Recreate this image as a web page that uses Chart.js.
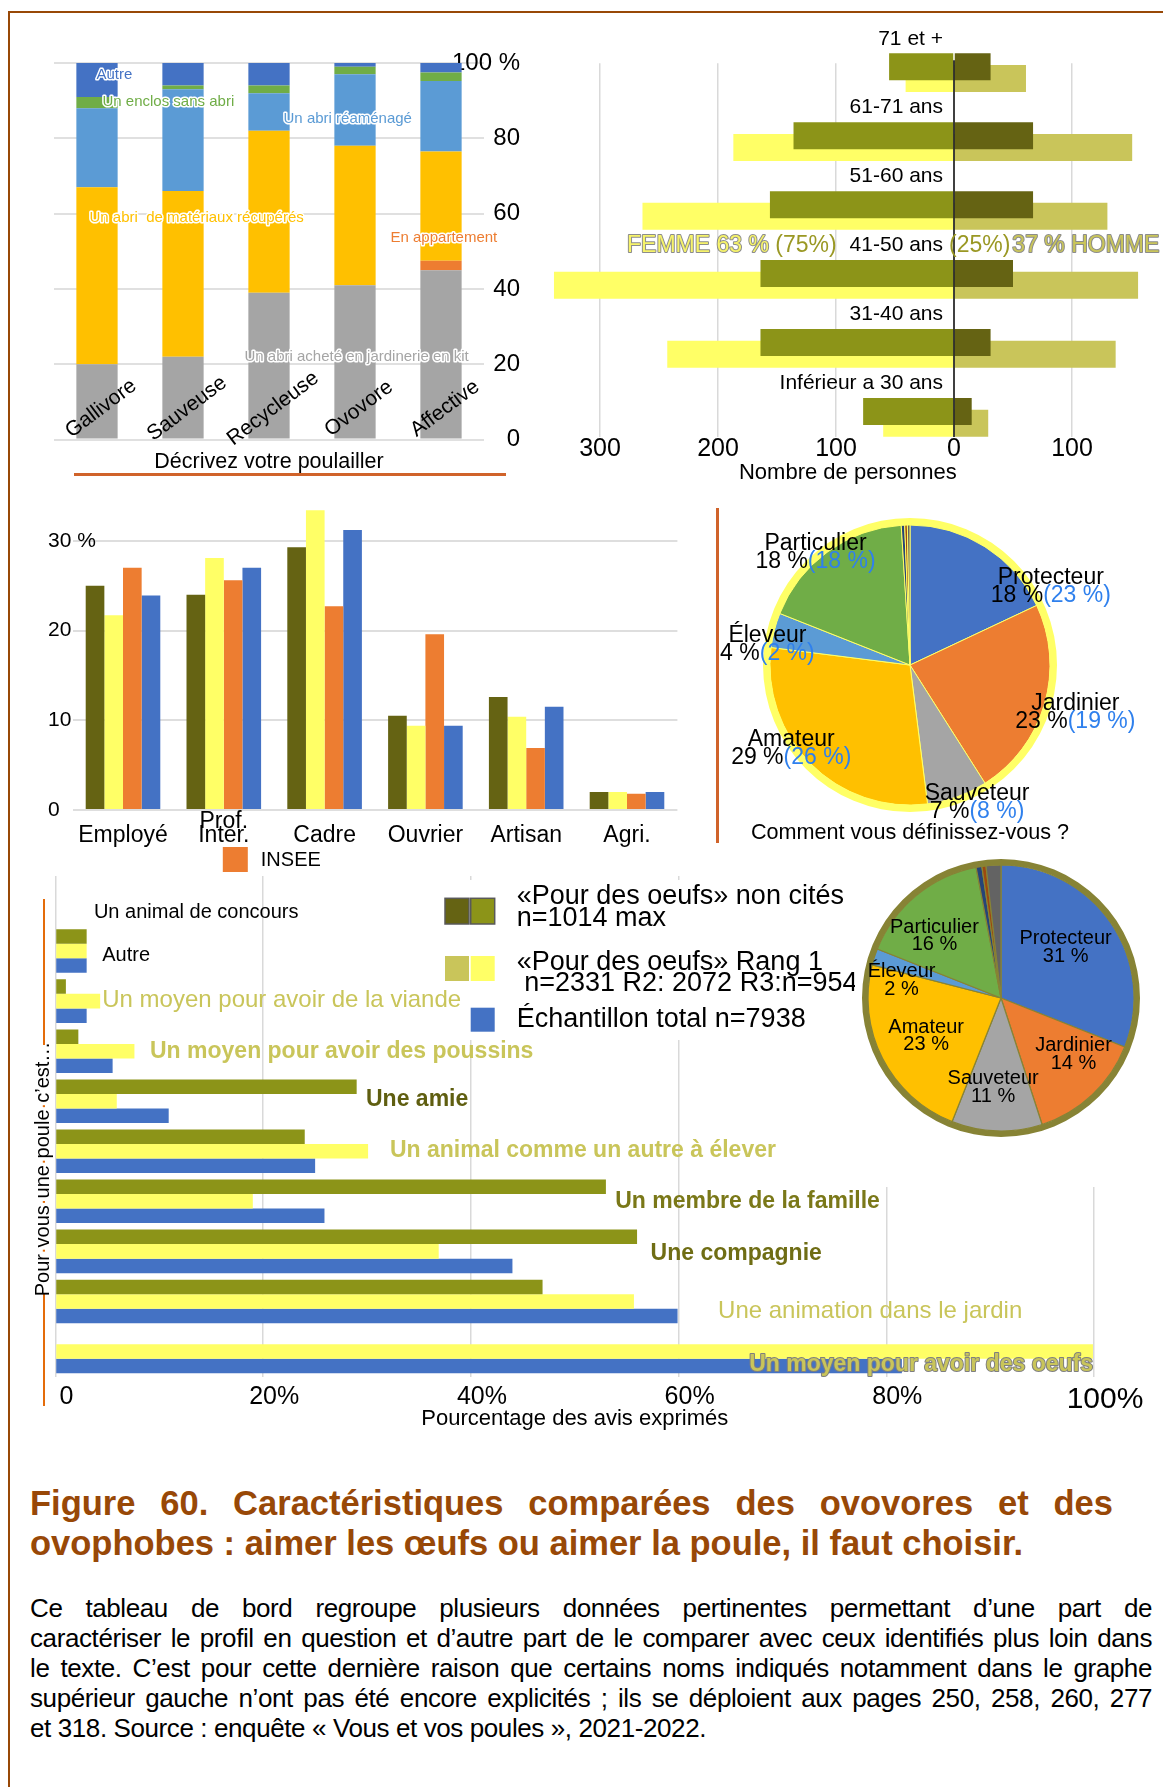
<!DOCTYPE html>
<html lang="fr">
<head>
<meta charset="utf-8">
<title>Figure 60 – ovovores et ovophobes</title>
<script src="https://cdn.jsdelivr.net/npm/chart.js@4.4.1/dist/chart.umd.min.js"></script>
<style>
  html, body { margin: 0; padding: 0; background: #fff; }
  body { position: relative; width: 1163px; height: 1787px; overflow: hidden;
         font-family: 'Liberation Sans', Arial, Helvetica, sans-serif; color: #000; }
  .graphe, .trait { position: absolute; }
  #titreY { position: absolute; left: 42px; top: 1169px; width: 260px; height: 24px; line-height: 24px;
            margin: -12px 0 0 -130px; transform: rotate(-90deg); text-align: center; font-size: 20px; white-space: nowrap; }
  #titreY span { color: #E46C0A; }
  #legende { position: absolute; left: 30px; top: 1483px; width: 1083px; font-weight: bold;
             font-size: 34.5px; line-height: 40px; color: #984807; }
  #texte { position: absolute; left: 30px; top: 1593px; width: 1122px; font-size: 26px; letter-spacing: -0.4px; line-height: 30px; }
  .just { text-align: justify; text-align-last: justify; }
</style>
</head>
<body>

<div class="trait" style="left:8px;top:11px;width:1155px;height:2px;background:#984807"></div>
<div class="trait" style="left:8px;top:11px;width:2px;height:1776px;background:#984807"></div>
<div class="trait" style="left:74px;top:473px;width:432px;height:3px;background:#D0632A"></div>
<div class="trait" style="left:716px;top:508px;width:3px;height:335px;background:#D0632A"></div>
<div class="trait" style="left:43px;top:899px;width:2px;height:146px;background:#E46C0A"></div>
<div class="trait" style="left:43px;top:1293px;width:2px;height:113px;background:#E46C0A"></div>

<div class="graphe" style="left:0;top:0;width:560px;height:490px"><canvas id="poulailler"></canvas></div>
<div class="graphe" style="left:540px;top:0;width:623px;height:490px"><canvas id="pyramide"></canvas></div>
<div class="graphe" style="left:0;top:490px;width:700px;height:390px"><canvas id="csp"></canvas></div>
<div class="graphe" style="left:680px;top:510px;width:460px;height:340px"><canvas id="profilsOvophobes"></canvas></div>
<div class="graphe" style="left:0;top:860px;width:1163px;height:580px"><canvas id="pourVous"></canvas></div>
<div class="graphe" style="left:855px;top:852px;width:291px;height:335px;background:#fff"></div>
<div class="graphe" style="left:855.5px;top:852.7px;width:290px;height:290px"><canvas id="profilsOvovores"></canvas></div>
<div id="titreY">Pour<span>·</span>vous<span>·</span>une<span>·</span>poule<span>·</span>c’est…</div>

<div id="legende">
  <div class="just">Figure 60. Caractéristiques comparées des ovovores et des</div>
  <div>ovophobes : aimer les œufs ou aimer la poule, il faut choisir.</div>
</div>
<div id="texte">
  <div class="just">Ce tableau de bord regroupe plusieurs données pertinentes permettant d’une part de</div>
  <div class="just">caractériser le profil en question et d’autre part de le comparer avec ceux identifiés plus loin dans</div>
  <div class="just">le texte. C’est pour cette dernière raison que certains noms indiqués notamment dans le graphe</div>
  <div class="just">supérieur gauche n’ont pas été encore explicités ; ils se déploient aux pages 250, 258, 260, 277</div>
  <div>et 318. Source : enquête « Vous et vos poules », 2021-2022.</div>
</div>

<script>
// ---------- données ----------

// Décrivez votre poulailler (% par profil)
const profils = ['Gallivore', 'Sauveuse', 'Recycleuse', 'Ovovore', 'Affective'];
const abriKit = [20, 22, 39, 41, 45];
const appartement = [0, 0, 0, 0, 2.5];
const abriMateriaux = [47, 44, 43, 37, 29];
const abriReamenage = [21, 27, 10, 19, 18.7];
const enclosSansAbri = [3, 1, 2, 2, 2.3];
const autrePoulailler = [9, 6, 6, 1, 2.5];

// Pyramide des âges (nombre de personnes)
const tranchesAge = ['71 et +', '61-71 ans', '51-60 ans', '41-50 ans', '31-40 ans', 'Inférieur a 30 ans'];
const femmesNonCites = [55, 136, 156, 164, 164, 77];
const hommesNonCites = [31, 67, 67, 50, 31, 15];
const femmesRang1 = [41, 187, 264, 339, 243, 60];
const hommesRang1 = [61, 151, 130, 156, 137, 29];
const graduationsAge = [-300, -200, -100, 0, 100];
const partFemmes = 63, partHommes = 37;
const partFemmesRef = 75, partHommesRef = 25;

// Catégories socio-professionnelles (%)
const csp = ['Employé', ['Prof.', 'Inter.'], 'Cadre', 'Ouvrier', 'Artisan', 'Agri.'];
const cspNonCites = [25.0, 24.0, 29.3, 10.5, 12.6, 2.0];
const cspRang1 = [21.7, 28.1, 33.4, 9.4, 10.4, 2.0];
const cspInsee = [27.0, 25.6, 22.7, 19.6, 6.9, 1.8];
const cspTotal = [23.9, 27.0, 31.2, 9.4, 11.5, 2.0];

// Comment vous définissez-vous ? (%)
const profilsPoule = ['Protecteur', 'Jardinier', 'Sauveteur', 'Amateur', 'Éleveur', 'Particulier', 'Autre', 'Sans avis', 'Non classé'];
const partsOvophobes = [18, 23, 7, 29, 4, 18, 0.4, 0.3, 0.3];
const partsEchantillon = [23, 19, 8, 26, 2, 18];
const partsOvovores = [31, 14, 11, 23, 2, 16, 0.7, 0.5, 1.8];

// Pour vous une poule c'est... (% des avis exprimés)
const pourVous = ['Un animal de concours', 'Autre', 'Un moyen pour avoir de la viande',
  'Un moyen pour avoir des poussins', 'Une amie', 'Un animal comme un autre à élever',
  'Un membre de la famille', 'Une compagnie', 'Une animation dans le jardin', 'Un moyen pour avoir des oeufs'];
const pvNonCites = [0, 3, 1, 2.2, 29, 24, 53, 56, 46.9, 0];
const pvRang1 = [0, 3, 4.3, 7.6, 5.9, 30.1, 19, 36.9, 55.7, 99.9];
const pvTotal = [0, 3, 3, 5.5, 10.9, 25, 25.9, 44, 59.9, 81.5];

// ---------- réglages communs ----------

const FAMILLE = "'Liberation Sans', Arial, Helvetica, sans-serif";
Chart.defaults.font.family = FAMILLE;
Chart.defaults.color = '#000';
Chart.defaults.animation = false;
Chart.defaults.responsive = true;
Chart.defaults.maintainAspectRatio = false;
Chart.defaults.plugins.legend.display = false;
Chart.defaults.plugins.tooltip.enabled = false;

const couleursProfils = ['#4472C4', '#ED7D31', '#A5A5A5', '#FFC000', '#5B9BD5', '#70AD47', '#264478', '#9E480E', '#636363'];
const OLIVE_FONCE = '#656313', OLIVE = '#8C9418', KAKI = '#C9C55A', JAUNE = '#FFFF66', BLEU = '#4472C4';

function police(taille, gras) {
  return (gras ? 'bold ' : '') + taille + 'px ' + FAMILLE;
}

function texteContour(ctx, txt, x, y, remplissage, contour, epaisseur) {
  if (contour) {
    ctx.strokeStyle = contour;
    ctx.lineWidth = epaisseur;
    ctx.lineJoin = 'round';
    ctx.strokeText(txt, x, y);
  }
  ctx.fillStyle = remplissage;
  ctx.fillText(txt, x, y);
}

// ---------- 1. Décrivez votre poulailler ----------

// noms des séries écrits dans le graphe, en (index de catégorie, valeur)
const placeSeries = [[1.715, 22.1], [3.413, 53.5], [-0.087, 59.0], [2.169, 85.1], [0.064, 89.6], [-0.006, 96.8]];

const etiquettesPoulailler = {
  id: 'etiquettesPoulailler',
  afterDatasetsDraw(chart) {
    const { ctx, chartArea, scales: { x, y } } = chart;
    ctx.save();
    ctx.font = police(15);
    ctx.textBaseline = 'middle';
    ctx.textAlign = 'left';
    chart.data.datasets.forEach((ds, i) => {
      const [cx, cy] = placeSeries[i];
      texteContour(ctx, ds.label, x.getPixelForValue(cx), y.getPixelForValue(cy), ds.backgroundColor, '#fff', 3);
    });
    // profils en biais sur le pied des barres
    ctx.font = police(21);
    ctx.fillStyle = '#000';
    ctx.textAlign = 'center';
    chart.data.labels.forEach((lab, i) => {
      ctx.save();
      ctx.translate(x.getPixelForValue(i) + 4, chartArea.bottom - 31);
      ctx.rotate(-37 * Math.PI / 180);
      ctx.fillText(lab, 0, 0);
      ctx.restore();
    });
    ctx.restore();
  }
};

new Chart(document.getElementById('poulailler'), {
  type: 'bar',
  data: {
    labels: profils,
    datasets: [
      { label: 'Un abri acheté en jardinerie en kit', data: abriKit, backgroundColor: '#A5A5A5' },
      { label: 'En appartement', data: appartement, backgroundColor: '#ED7D31' },
      { label: 'Un abri  de matériaux récupérés', data: abriMateriaux, backgroundColor: '#FFC000' },
      { label: 'Un abri réaménagé', data: abriReamenage, backgroundColor: '#5B9BD5' },
      { label: 'Un enclos sans abri', data: enclosSansAbri, backgroundColor: '#70AD47' },
      { label: 'Autre', data: autrePoulailler, backgroundColor: '#4472C4' }
    ]
  },
  options: {
    // l'écart des graduations (36 px) réserve aussi une marge basse de ~50 px
    layout: { padding: { left: 54, top: 63, right: 40, bottom: 0 } },
    datasets: { bar: { categoryPercentage: 1, barPercentage: 0.48 } },
    scales: {
      x: {
        stacked: true,
        grid: { display: false },
        border: { display: false },
        ticks: { display: false },
        title: { display: true, text: 'Décrivez votre poulailler', font: { size: 21.5 }, padding: 0 },
        afterFit: s => { s.height = 35; }
      },
      y: {
        stacked: true,
        position: 'right',
        min: 0,
        max: 100,
        ticks: { stepSize: 20, mirror: true, crossAlign: 'near', padding: 36, font: { size: 24 },
                 callback: v => v === 100 ? '100 %' : v },
        grid: { color: '#E0E0E0', lineWidth: 2, drawTicks: false },
        border: { display: false },
        afterFit: s => { s.width = 36; }
      }
    }
  },
  plugins: [etiquettesPoulailler]
});

// ---------- 2. Pyramide des âges ----------

const etiquettesAges = {
  id: 'etiquettesAges',
  afterDatasetsDraw(chart) {
    const { ctx, chartArea, scales: { x, y } } = chart;
    const x0 = x.getPixelForValue(0);
    ctx.save();
    ctx.strokeStyle = '#000';
    ctx.lineWidth = 1.5;
    ctx.beginPath();
    ctx.moveTo(x0, chartArea.top - 3);
    ctx.lineTo(x0, chartArea.bottom);
    ctx.stroke();

    ctx.font = police(21);
    ctx.fillStyle = '#000';
    ctx.textAlign = 'right';
    ctx.textBaseline = 'middle';
    chart.data.labels.forEach((lab, i) => ctx.fillText(lab, x0 - 11, y.getPixelForValue(i) - 28));

    // répartition femmes / hommes à hauteur des 41-50 ans
    const yMil = y.getPixelForValue(3) - 28;
    const bord = x0 - 11 - ctx.measureText(chart.data.labels[3]).width - 13;
    ctx.font = police(23);
    ctx.textAlign = 'left';
    const t1 = 'FEMME ' + partFemmes + ' % ', t2 = '(' + partFemmesRef + '%)';
    const w1 = ctx.measureText(t1).width, w2 = ctx.measureText(t2).width;
    texteContour(ctx, t1, bord - w1 - w2, yMil, '#F6F36A', '#8C8C8C', 2);
    texteContour(ctx, t2, bord - w2, yMil, '#9A9824');
    const t3 = '(' + partHommesRef + '%)', t4 = partHommes + ' % HOMME';
    texteContour(ctx, t3, x0 - 5, yMil, '#9A9824');
    texteContour(ctx, t4, x0 - 3 + ctx.measureText(t3).width, yMil, KAKI, '#8C8C8C', 2);
    ctx.restore();
  }
};

const decalage = 0.17; // les barres claires passent un peu sous les foncées

new Chart(document.getElementById('pyramide'), {
  type: 'bar',
  data: {
    labels: tranchesAge,
    datasets: [
      { label: 'Femmes non cités', data: femmesNonCites.map((v, i) => ({ x: -v, y: i })), backgroundColor: OLIVE },
      { label: 'Hommes non cités', data: hommesNonCites.map((v, i) => ({ x: v, y: i })), backgroundColor: OLIVE_FONCE },
      { label: 'Femmes rang 1', data: femmesRang1.map((v, i) => ({ x: -v, y: i + decalage })), backgroundColor: JAUNE },
      { label: 'Hommes rang 1', data: hommesRang1.map((v, i) => ({ x: v, y: i + decalage })), backgroundColor: KAKI }
    ]
  },
  options: {
    indexAxis: 'y',
    layout: { padding: { left: 12.8, top: 63.3, right: 20.2, bottom: 3 } },
    datasets: { bar: { grouped: false, barPercentage: 10, maxBarThickness: 27, clip: false } },
    scales: {
      x: {
        min: -340,
        max: 160,
        afterBuildTicks: s => { s.ticks = graduationsAge.map(v => ({ value: v })); },
        ticks: { padding: 0, font: { size: 25, lineHeight: 1 }, callback: v => Math.abs(v) },
        grid: { color: c => c.tick && c.tick.value === 0 ? 'rgba(0,0,0,0)' : '#D9D9D9', lineWidth: 1.5, drawTicks: false },
        border: { display: false },
        title: { display: true, text: 'Nombre de personnes', font: { size: 22 }, padding: { top: 0, bottom: 1 } },
        afterFit: s => { s.height = 50; }
      },
      y: { type: 'linear', display: false, offset: false, reverse: true, min: -0.05, max: 5.37 }
    }
  },
  plugins: [etiquettesAges]
});

// ---------- 3. Catégories socio-professionnelles ----------

const legendeInsee = {
  id: 'legendeInsee',
  afterDraw(chart) {
    const { ctx, chartArea, scales: { x } } = chart;
    const ds = chart.data.datasets[2];
    const gx = x.getPixelForValue(1) - 1, gy = chartArea.bottom + 37;
    ctx.save();
    ctx.fillStyle = ds.backgroundColor;
    ctx.fillRect(gx, gy, 25, 25);
    ctx.fillStyle = '#000';
    ctx.font = police(20);
    ctx.textBaseline = 'middle';
    ctx.fillText(ds.label, gx + 38, gy + 13);
    ctx.restore();
  }
};

new Chart(document.getElementById('csp'), {
  type: 'bar',
  data: {
    labels: csp,
    datasets: [
      { label: '«Pour des oeufs» non cités', data: cspNonCites, backgroundColor: OLIVE_FONCE },
      { label: '«Pour des oeufs» Rang 1', data: cspRang1, backgroundColor: JAUNE },
      { label: 'INSEE', data: cspInsee, backgroundColor: '#ED7D31' },
      { label: 'Échantillon total', data: cspTotal, backgroundColor: BLEU }
    ]
  },
  options: {
    layout: { padding: { left: 48, top: 6, right: 22.6, bottom: 30 } },
    datasets: { bar: { categoryPercentage: 0.74, barPercentage: 1 } },
    scales: {
      x: {
        grid: { display: false },
        border: { display: false },
        ticks: { font: { size: 23, lineHeight: 0.6 }, crossAlign: 'far', padding: 4, maxRotation: 0, autoSkip: false },
        afterFit: s => { s.height = 40; }
      },
      y: {
        min: 0,
        max: 35,
        ticks: { stepSize: 10, includeBounds: false, mirror: true, crossAlign: 'near', padding: -24.6, font: { size: 21 },
                 callback: v => v === 30 ? '30 %' : v },
        grid: { color: '#DEDEDE', lineWidth: 2, drawTicks: false },
        border: { display: false },
        afterFit: s => { s.width = 24.6; }
      }
    }
  },
  plugins: [legendeInsee]
});

// ---------- 4 et 6. Camemberts des profils ----------

// place des étiquettes : [angle en degrés depuis midi, distance au centre en px]
function etiquettesParts(cfg) {
  return {
    id: 'etiquettesParts',
    afterDatasetsDraw(chart) {
      const { ctx } = chart;
      const { x: cx, y: cy } = chart.getDatasetMeta(1).data[0];
      const valeurs = chart.data.datasets[1].data;
      ctx.save();
      ctx.font = police(cfg.taille);
      ctx.textBaseline = 'middle';
      ctx.textAlign = 'left';
      cfg.places.forEach(([a, d], i) => {
        const r = a * Math.PI / 180;
        const px = cx + d * Math.sin(r), py = cy - d * Math.cos(r);
        const nom = chart.data.labels[i];
        const val = valeurs[i] + ' %';
        const comp = cfg.comparaison ? '(' + cfg.comparaison[i] + ' %)' : '';
        ctx.fillStyle = '#000';
        ctx.fillText(nom, px - ctx.measureText(nom).width / 2, py - cfg.ecart / 2);
        const wv = ctx.measureText(val).width, wc = comp ? ctx.measureText(comp).width : 0;
        const x1 = px - (wv + wc) / 2;
        ctx.fillText(val, x1, py + cfg.ecart / 2);
        if (comp) {
          ctx.fillStyle = '#2F80ED';
          ctx.fillText(comp, x1 + wv, py + cfg.ecart / 2);
        }
      });
      ctx.restore();
    }
  };
}

new Chart(document.getElementById('profilsOvophobes'), {
  type: 'pie',
  data: {
    labels: profilsPoule,
    datasets: [
      { label: 'contour', data: [1], backgroundColor: JAUNE, borderWidth: 0, weight: 0.05 },
      { label: 'Ovophobes', data: partsOvophobes, backgroundColor: couleursProfils,
        borderColor: JAUNE, borderWidth: 1, weight: 1 }
    ]
  },
  options: {
    radius: 147,
    plugins: {
      title: { display: true, position: 'bottom', text: 'Comment vous définissez-vous ?', color: '#000',
               font: { size: 21.6, weight: 'normal' }, padding: { top: 0, bottom: 4 } }
    }
  },
  plugins: [etiquettesParts({
    taille: 23, ecart: 18, comparaison: partsEchantillon,
    places: [[61, 161], [106, 172], [154, 153], [235, 145], [278, 144], [320, 147]]
  })]
});

new Chart(document.getElementById('profilsOvovores'), {
  type: 'pie',
  data: {
    labels: profilsPoule,
    datasets: [
      { label: 'contour', data: [1], backgroundColor: '#878335', borderWidth: 0, weight: 0.045 },
      { label: 'Ovovores', data: partsOvovores, backgroundColor: couleursProfils,
        borderColor: '#878335', borderWidth: 1.2, weight: 1 }
    ]
  },
  options: { radius: 139 },
  plugins: [etiquettesParts({
    taille: 20, ecart: 17.5,
    places: [[52, 82], [128, 92], [185, 90], [243, 84], [280, 101], [313, 91]]
  })]
});

// ---------- 5. Pour vous une poule c'est... ----------

// libellés posés au bout des barres : x en %, décalage vertical en px
const libellesPV = [
  { at: 3.7, dy: 11, couleur: '#000', gras: false, taille: 20 },
  { at: 4.5, dy: 4, couleur: '#000', gras: false, taille: 20 },
  { at: 4.5, dy: -1, couleur: KAKI, gras: false, taille: 24 },
  { at: 9.1, dy: 0, couleur: KAKI, gras: true, taille: 23 },
  { at: 29.9, dy: -2, couleur: '#5F5E10', gras: true, taille: 23 },
  { at: 32.2, dy: -1, couleur: KAKI, gras: true, taille: 23 },
  { at: 53.9, dy: 0, couleur: '#7A7818', gras: true, taille: 23 },
  { at: 57.3, dy: 2, couleur: '#6F6D14', gras: true, taille: 23 },
  { at: 63.8, dy: 10, couleur: KAKI, gras: false, taille: 24 },
  { at: 66.8, dy: 13, couleur: KAKI, gras: true, taille: 23, contour: '#7F7F7F' }
];

const etiquettesPourVous = {
  id: 'etiquettesPourVous',
  afterDatasetsDraw(chart) {
    const { ctx, scales: { x, y } } = chart;
    ctx.save();

    // légende
    ctx.fillStyle = '#fff';
    ctx.fillRect(440, 20, 415, 160);
    const carres = [
      [445, 38.3, 25.7, [OLIVE_FONCE, OLIVE]],
      [445, 96, 25, [KAKI, JAUNE]],
      [445, 147.7, 24, [null, BLEU]]
    ];
    carres.forEach(([cx, cy, h, coul], k) => {
      coul.forEach((c, j) => {
        if (!c) return;
        const gx = cx + j * 25.7;
        ctx.fillStyle = c;
        ctx.fillRect(gx, cy, 24, h);
        if (k === 0) {
          ctx.strokeStyle = '#595959';
          ctx.lineWidth = 1.5;
          ctx.strokeRect(gx, cy, 24, h);
        }
      });
    });
    ctx.font = police(27);
    ctx.fillStyle = '#000';
    ctx.textBaseline = 'middle';
    ctx.textAlign = 'left';
    [['«Pour des oeufs» non cités', 36.7], ['n=1014 max', 59],
     ['«Pour des oeufs» Rang 1', 103], [' n=2331 R2: 2072 R3:n=954', 124],
     ['Échantillon total n=7938', 160]].forEach(([t, ty]) => ctx.fillText(t, 516.7, ty));

    // libellés des catégories
    chart.data.labels.forEach((lab, i) => {
      const st = libellesPV[i];
      ctx.font = police(st.taille, st.gras);
      texteContour(ctx, lab, x.getPixelForValue(st.at), y.getPixelForValue(i) + st.dy, st.couleur, st.contour, 2);
    });
    ctx.restore();
  }
};

new Chart(document.getElementById('pourVous'), {
  type: 'bar',
  data: {
    labels: pourVous,
    datasets: [
      { label: '«Pour des oeufs» non cités', data: pvNonCites, backgroundColor: OLIVE },
      { label: '«Pour des oeufs» Rang 1', data: pvRang1, backgroundColor: JAUNE },
      { label: 'Échantillon total', data: pvTotal, backgroundColor: BLEU }
    ]
  },
  options: {
    indexAxis: 'y',
    layout: { padding: { left: 55.5, right: 69, top: 16, bottom: 3.5 } },
    datasets: { bar: { categoryPercentage: 0.87, barPercentage: 1 } },
    scales: {
      x: {
        min: 0,
        max: 100,
        ticks: {
          stepSize: 20, labelOffset: 11, padding: 8,
          font: c => ({ size: c.tick && c.tick.value === 100 ? 30 : 25, lineHeight: 1 }),
          callback: v => v === 0 ? '0' : v + '%'
        },
        grid: { color: '#D9D9D9', lineWidth: 1.5, drawTicks: false },
        border: { display: false },
        title: { display: true, text: 'Pourcentage des avis exprimés', font: { size: 22 }, padding: { top: 0, bottom: 4 } },
        afterFit: s => { s.height = 60; }
      },
      y: { display: false }
    }
  },
  plugins: [etiquettesPourVous]
});
</script>
</body>
</html>
